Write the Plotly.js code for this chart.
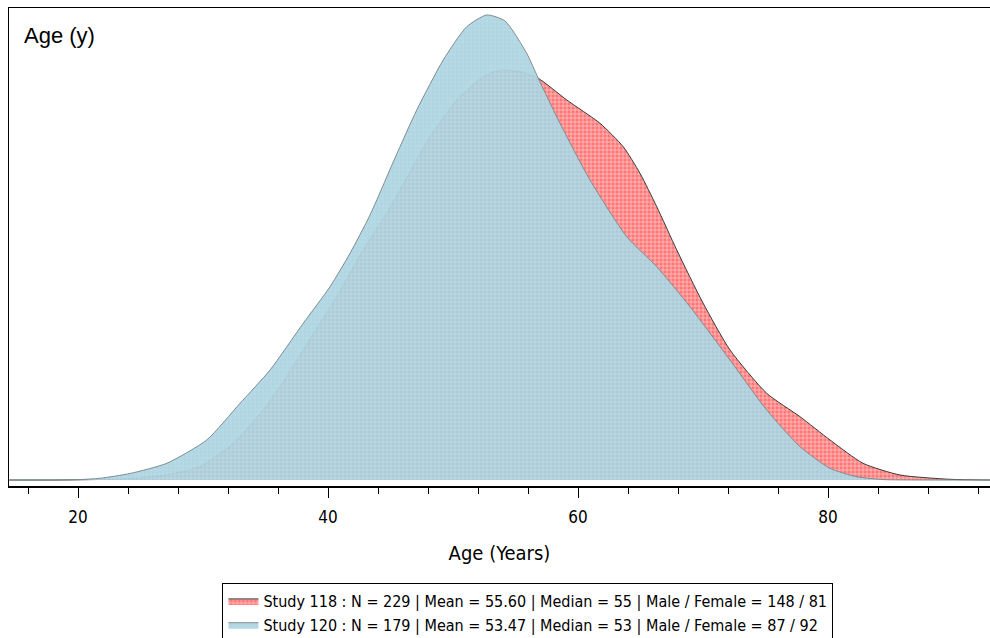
<!DOCTYPE html>
<html>
<head>
<meta charset="utf-8">
<script src="https://cdn.plot.ly/plotly-3.0.1.min.js"></script>
<style>
html,body{margin:0;padding:0;background:#fff;}
#chart{width:990px;height:638px;}
</style>
</head>
<body>
<div id="chart"></div>
<script>
// Age (years) grid and estimated density (% per year)
const age118 = [14.5, 18.56, 23.36, 26.56, 29.76, 32.42, 34.82, 36.7, 38.02, 40.7, 42.82, 44.7, 46.56, 47.9, 50.3, 52.42, 53.76, 55.36, 56.82, 59.1, 61.76, 63.62, 64.96, 66.3, 67.9, 70.0, 72.16, 75.1, 77.76, 80.16, 82.8, 85.76, 89.76, 93];
const dens118 = [0, 0, 0.009, 0.034, 0.115, 0.316, 0.603, 0.891, 1.121, 1.58, 1.983, 2.299, 2.655, 2.914, 3.276, 3.477, 3.534, 3.52, 3.463, 3.276, 3.075, 2.873, 2.644, 2.356, 1.983, 1.526, 1.121, 0.747, 0.546, 0.345, 0.144, 0.043, 0.006, 0];

const age120 = [14.5, 16.96, 20.0, 21.76, 24.16, 27.1, 30.3, 32.96, 35.36, 38.02, 40.16, 41.76, 43.36, 45.36, 47.1, 49.22, 51.1, 52.7, 54.16, 55.9, 56.82, 58.56, 60.96, 63.9, 66.3, 68.96, 72.16, 75.1, 77.76, 80.16, 82.3, 84.4, 87.36, 93];
const dens120 = [0, 0, 0.003, 0.015, 0.056, 0.144, 0.345, 0.661, 0.948, 1.351, 1.666, 1.954, 2.284, 2.776, 3.19, 3.621, 3.908, 4.009, 3.957, 3.678, 3.463, 3.075, 2.586, 2.097, 1.839, 1.494, 1.034, 0.603, 0.287, 0.101, 0.028, 0.004, 0, 0];

const seriesNames = [
  "Study 118 : N = 229 | Mean = 55.60 | Median = 55 | Male / Female = 148 / 81",
  "Study 120 : N = 179 | Mean = 53.47 | Median = 53 | Male / Female = 87 / 92"
];
const xTickVals = [20, 40, 60, 80];
const xTickText = ["20", "40", "60", "80"];
const xTitle = "Age (Years)";
const panelLabel = "Age (y)";

const narrow = "Liberation Sans Narrow, DejaVu Sans Condensed, Arial Narrow, sans-serif";

const traces = [
  {
    x: age118, y: dens118, name: seriesNames[0], type: "scatter", mode: "lines",
    line: {color: "#3a3a3a", width: 1, shape: "spline", smoothing: 0.6},
    fill: "tozeroy",
    fillcolor: "rgb(255,120,120)",
    fillpattern: {shape: "+", bgcolor: "rgb(255,118,118)", fgcolor: "rgba(255,235,235,0.8)", size: 4, solidity: 0.3},
    hoverinfo: "skip"
  },
  {
    x: age120, y: dens120, name: seriesNames[1], type: "scatter", mode: "lines",
    line: {color: "#7f8c90", width: 1, shape: "spline", smoothing: 0.6},
    fill: "tozeroy",
    fillcolor: "rgba(170,214,228,0.9)",
    fillpattern: {shape: "+", bgcolor: "rgba(168,210,224,0.92)", fgcolor: "rgba(200,232,242,0.6)", size: 4, solidity: 0.25},
    hoverinfo: "skip"
  }
];

const layout = {
  width: 990, height: 638,
  margin: {l: 9, r: 0, t: 8, b: 152},
  paper_bgcolor: "#ffffff",
  plot_bgcolor: "#ffffff",
  showlegend: true,
  legend: {
    xref: "paper", yref: "container",
    x: 0.529, xanchor: "center", y: 0.0862, yanchor: "top",
    bordercolor: "#000", borderwidth: 1, bgcolor: "#fff",
    font: {family: narrow, size: 16, color: "#000"},
    traceorder: "normal",
    itemwidth: 30,
    tracegroupgap: 0
  },
  xaxis: {
    range: [14.48, 92.96],
    tickvals: xTickVals, ticktext: xTickText,
    ticks: "outside", ticklen: 10, tickwidth: 1, tickcolor: "#000",
    minor: {dtick: 4, tick0: 0, ticks: "outside", ticklen: 6, tickwidth: 1, tickcolor: "#000", showgrid: false},
    showline: true, linecolor: "#000", linewidth: 1.5, mirror: true,
    showgrid: false, zeroline: false,
    tickfont: {family: narrow, size: 17, color: "#000"},
    ticklabelstandoff: 5,
    title: {text: xTitle, font: {family: narrow, size: 20, color: "#000"}, standoff: 20},
    automargin: false
  },
  yaxis: {
    range: [-0.0517, 4.069],
    showticklabels: false, ticks: "",
    showgrid: false, zeroline: false,
    showline: true, linecolor: "#000", linewidth: 1.5,
    automargin: false
  },
  annotations: [
    {text: panelLabel, xref: "paper", yref: "paper", x: 0.0133, y: 0.9435,
     xanchor: "left", yanchor: "middle", showarrow: false,
     font: {family: "Liberation Sans, Arial, sans-serif", size: 22, color: "#000"}}
  ]
};

Plotly.newPlot("chart", traces, layout, {displayModeBar: false, staticPlot: true});
</script>
</body>
</html>
